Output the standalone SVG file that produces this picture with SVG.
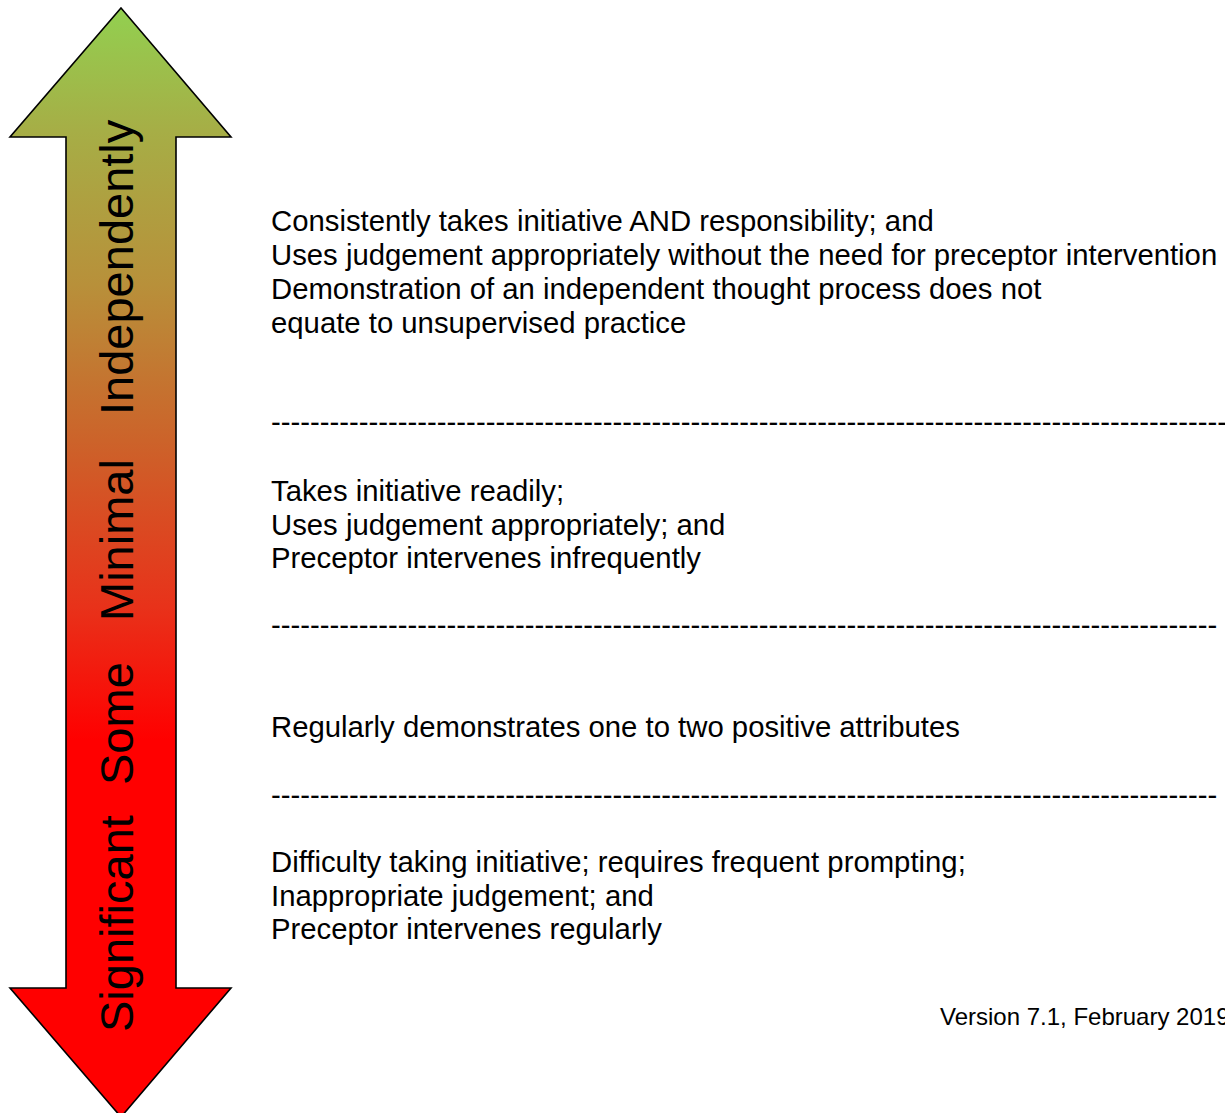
<svg xmlns="http://www.w3.org/2000/svg" width="1225" height="1113" viewBox="0 0 1225 1113">
<defs>
<linearGradient id="g" gradientUnits="userSpaceOnUse" x1="0" y1="8" x2="0" y2="1117">
<stop offset="0" stop-color="#92D050"/>
<stop offset="0.11" stop-color="#A6AE46"/>
<stop offset="0.25" stop-color="#B8903A"/>
<stop offset="0.39" stop-color="#CC632A"/>
<stop offset="0.54" stop-color="#E8321A"/>
<stop offset="0.66" stop-color="#FF0000"/>
<stop offset="1" stop-color="#FF0000"/>
</linearGradient>
</defs>
<style>
.t{font-family:"Liberation Sans",Arial,sans-serif;font-size:29.3px;fill:#000}
.v{font-family:"Liberation Sans",Arial,sans-serif;font-size:47px;fill:#000}
.s{font-family:"Liberation Sans",Arial,sans-serif;font-size:24px;fill:#000}
</style>
<rect width="1225" height="1113" fill="#fff"/>
<g id="arrow">
<polygon points="121,8 231,137 176,137 176,988 231,988 121,1117 10,988 66,988 66,137 10,137" fill="url(#g)" stroke="#000" stroke-width="1.6" stroke-linejoin="miter"/>
<text class="v" transform="translate(133,0) rotate(-90)"><tspan x="-1032">Significant</tspan><tspan x="-785">Some</tspan><tspan x="-621">Minimal</tspan><tspan x="-415">Independently</tspan></text>
</g>
<g id="level4">
<text class="t" x="271" y="231">Consistently takes initiative AND responsibility; and</text>
<text class="t" x="271" y="265">Uses judgement appropriately without the need for preceptor intervention</text>
<text class="t" x="271" y="299">Demonstration of an independent thought process does not</text>
<text class="t" x="271" y="333">equate to unsupervised practice</text>
</g>
<g id="sep1"><text class="t" x="271" y="432">--------------------------------------------------------------------------------------------------</text></g>
<g id="level3">
<text class="t" x="271" y="501">Takes initiative readily;</text>
<text class="t" x="271" y="535">Uses judgement appropriately; and</text>
<text class="t" x="271" y="568">Preceptor intervenes infrequently</text>
</g>
<g id="sep2"><text class="t" x="271" y="635">-------------------------------------------------------------------------------------------------</text></g>
<g id="level2">
<text class="t" x="271" y="737">Regularly demonstrates one to two positive attributes</text>
</g>
<g id="sep3"><text class="t" x="271" y="805">-------------------------------------------------------------------------------------------------</text></g>
<g id="level1">
<text class="t" x="271" y="872">Difficulty taking initiative; requires frequent prompting;</text>
<text class="t" x="271" y="906">Inappropriate judgement; and</text>
<text class="t" x="271" y="939">Preceptor intervenes regularly</text>
</g>
<g id="footer"><text class="s" x="940" y="1025">Version 7.1, February 2019</text></g>
</svg>
